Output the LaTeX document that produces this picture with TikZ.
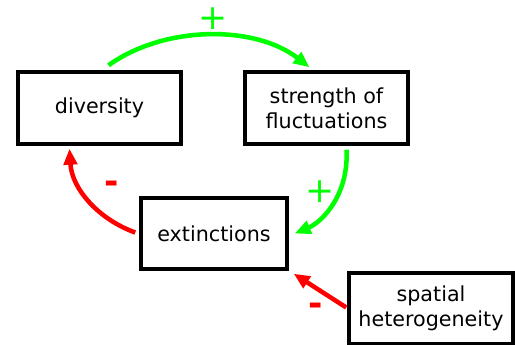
\documentclass[tikz,border=0pt]{standalone}
\usepackage{fontspec}
\setmainfont{DejaVu Sans}
\usetikzlibrary{arrows.meta,calc}
\definecolor{pgreen}{HTML}{00FF00}
\definecolor{pred}{HTML}{FF0000}
\begin{document}
\begin{tikzpicture}[x=0.75pt,y=-0.75pt,
  box/.style={draw=black,line width=2.6pt,inner sep=0pt,align=center,
    font=\fontsize{15.5}{19}\selectfont},
  conn/.style={line width=3.4pt,-{Triangle[length=12pt,width=10pt]}},
  poslabel/.style={pgreen,font=\fontsize{26}{26}\selectfont},
  neglabel/.style={pred,font=\bfseries\fontsize{26}{26}\selectfont}]
\useasboundingbox (0,0) rectangle (515,345);
\node[box,minimum width=122.25pt,minimum height=54pt] (div) at (99.5,108) {diversity};
\node[box,minimum width=122.25pt,minimum height=54pt] (str) at (326.5,108) {strength of\\fluctuations};
\node[box,minimum width=109.5pt,minimum height=53.25pt] (ext) at (214,233.5) {extinctions};
\node[box,minimum width=123pt,minimum height=53.25pt] (spa) at (431,308.5) {spatial\\heterogeneity};
\draw[conn,pgreen] ($(div.north)+(9,-5)$) .. controls (165,25) and (255,25) .. ($(str.north)+(-17,-3)$);
\draw[conn,pgreen] ($(str.south)+(20,4)$) .. controls (349,195) and (322,222) .. ($(ext.east)+(6,0)$);
\draw[conn,pred] ($(ext.west)+(-4,-1)$) .. controls (100,220) and (72,190) .. ($(div.south)+(-30,3)$);
\draw[conn,pred] ($(spa.west)+(-1,-1)$) -- ($(ext.south east)+(5,3)$);
\node[poslabel] (p1) at (213,19) {+};
\node[poslabel] (p2) at (320,192) {+};
\node[neglabel] (m1) at (112,187) {-};
\node[neglabel] (m2) at (316,309) {-};
\end{tikzpicture}
\end{document}
